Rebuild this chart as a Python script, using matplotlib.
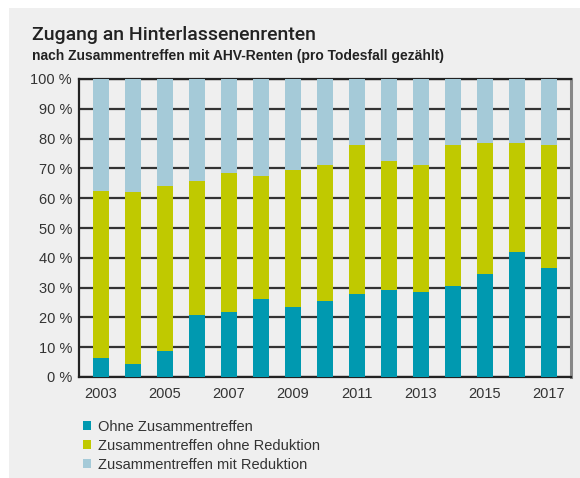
import matplotlib
matplotlib.use("Agg")
import matplotlib.pyplot as plt
from matplotlib.patches import Rectangle, Patch

plt.rcParams["font.family"] = ["Liberation Sans", "DejaVu Sans"]

years = list(range(2003, 2018))
ohne = [6.4, 4.4, 8.7, 20.9, 21.9, 26.2, 23.5, 25.6, 27.9, 29.3, 28.6, 30.6, 34.6, 42.0, 36.7]
ohne_red_top = [62.4, 62.2, 64.2, 65.9, 68.3, 67.6, 69.3, 71.2, 77.9, 72.6, 71.2, 77.9, 78.4, 78.4, 77.7]
ohne_red = [t - o for t, o in zip(ohne_red_top, ohne)]
mit_red = [100 - t for t in ohne_red_top]
labels = ["Ohne Zusammentreffen", "Zusammentreffen ohne Reduktion",
          "Zusammentreffen mit Reduktion"]
colors = ["#0099b0", "#c0c900", "#a5cad8"]

W, H = 580, 478
fig = plt.figure(figsize=(W / 100, H / 100), dpi=100)
fig.patch.set_facecolor("white")
fig.patches.append(Rectangle((9 / W, 0), 1 - 9 / W, 1 - 8 / H,
                             transform=fig.transFigure, facecolor="#efefef",
                             edgecolor="none", zorder=-10))

ax = fig.add_axes([79 / W, 1 - 377 / H, (571 - 79) / W, (377 - 79) / H])
ax.set_facecolor("#efefef")

bottom = [0.0] * len(years)
for vals, c in zip([ohne, ohne_red, mit_red], colors):
    ax.bar(years, vals, bottom=bottom, width=0.5, color=c, zorder=3)
    bottom = [b + v for b, v in zip(bottom, vals)]

ax.set_ylim(0, 100)
ax.set_xlim(2003 - 22 / 32, 2017 + 22 / 32)
ax.set_yticks(range(0, 101, 10))
ax.set_yticklabels([f"{v} %" for v in range(0, 101, 10)])
ax.set_xticks(years[::2])
ax.tick_params(length=0, labelsize=10.5, colors="#333333", pad=5)
ax.tick_params(axis="x", pad=7)
ax.grid(axis="y", color="#333333", lw=1.6, zorder=1)
for s in ["left", "bottom", "top"]:
    ax.spines[s].set_color("#222222")
    ax.spines[s].set_linewidth(1.6)
ax.spines["right"].set_color("#888888")
ax.spines["right"].set_linewidth(2.2)

fig.text(32 / W, 1 - 40 / H, "Zugang an Hinterlassenenrenten", fontsize=14,
         family=["Roboto", "Liberation Sans"], fontweight="medium",
         color="#222222", va="baseline")
fig.text(32 / W, 1 - 60 / H,
         "nach Zusammentreffen mit AHV-Renten (pro Todesfall gezählt)",
         fontsize=10, fontweight="bold", color="#222222", va="baseline")

handles = [Patch(facecolor=c, edgecolor="none") for c in colors]
fig.legend(handles, labels, loc="upper left", bbox_to_anchor=(83 / W, 1 - 420 / H),
           frameon=False, fontsize=10.5, handlelength=0.55, handleheight=0.55,
           handletextpad=0.45, labelspacing=0.33, labelcolor="#333333",
           borderaxespad=0, borderpad=0)

fig.savefig("out.png", dpi=100, facecolor=fig.get_facecolor())
